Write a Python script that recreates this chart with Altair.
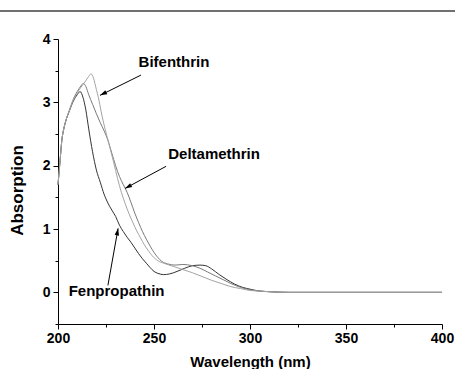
import math
import altair as alt
import pandas as pd

# ---------------- data ----------------
fen_wl = [200, 201, 202, 203, 204, 206, 208, 210, 211.5, 213, 214.5, 216, 218, 220, 222, 224, 226, 228, 230, 232,
          234, 236, 238, 240, 242, 244, 246, 248, 250, 252, 255, 258, 262, 266, 270, 274, 277, 280, 284, 288,
          292, 296, 300, 305, 310, 320, 340, 360, 380, 400]
fen_abs = [1.70, 2.05, 2.40, 2.58, 2.70, 2.87, 3.02, 3.12, 3.17, 3.08, 2.88, 2.58, 2.22, 1.93, 1.74, 1.55, 1.41, 1.30, 1.20, 1.06,
           0.96, 0.87, 0.79, 0.70, 0.61, 0.53, 0.46, 0.39, 0.33, 0.30, 0.28, 0.29, 0.33, 0.38, 0.42, 0.43, 0.42, 0.37, 0.28, 0.20,
           0.13, 0.08, 0.05, 0.02, 0.01, 0.0, 0.0, 0.0, 0.0, 0.0]

del_wl = [200, 201, 202, 203, 204, 206, 208, 210, 212, 213.2, 214.5, 216, 218, 220, 222, 224, 226, 228, 230, 232,
          234, 236, 238, 240, 242, 244, 246, 248, 250, 252, 254, 257, 261, 265, 270, 274, 278, 282, 286, 290,
          295, 300, 305, 310, 320, 340, 360, 380, 400]
del_abs = [1.70, 2.05, 2.40, 2.58, 2.70, 2.88, 3.05, 3.17, 3.26, 3.30, 3.25, 3.12, 2.97, 2.82, 2.68, 2.55, 2.40, 2.20, 2.00, 1.83,
           1.70, 1.58, 1.42, 1.25, 1.10, 0.96, 0.84, 0.73, 0.63, 0.55, 0.49, 0.45, 0.43, 0.44, 0.42, 0.38, 0.32, 0.26, 0.20, 0.14,
           0.08, 0.04, 0.02, 0.01, 0.0, 0.0, 0.0, 0.0, 0.0]

bif_wl = [200, 201, 202, 203, 204, 206, 208, 210, 212, 214, 216, 217.2, 218.5, 220, 221, 222.5, 224.5, 226.5, 229, 231,
          233, 235, 237, 239, 241, 243, 245, 247, 249, 252, 256, 260, 265, 270, 275, 280, 285, 290, 295, 300,
          305, 310, 320, 340, 360, 380, 400]
bif_abs = [1.70, 2.05, 2.40, 2.58, 2.70, 2.88, 3.04, 3.15, 3.24, 3.32, 3.41, 3.45, 3.38, 3.20, 3.08, 2.85, 2.58, 2.35, 2.05, 1.80,
           1.58, 1.40, 1.24, 1.10, 0.97, 0.86, 0.75, 0.66, 0.58, 0.50, 0.45, 0.41, 0.36, 0.31, 0.25, 0.19, 0.14, 0.09, 0.06, 0.03,
           0.02, 0.01, 0.0, 0.0, 0.0, 0.0, 0.0]

series_names = ["Fenpropathin", "Deltamethrin", "Bifenthrin"]
series_colors = ["#333333", "#7a7a7a", "#a3a3a3"]

label_text = ["Bifenthrin", "Deltamethrin", "Fenpropathin"]
label_wl = [260.4, 281.3, 230.5]
label_abs = [3.63, 2.18, 0.02]

arrow_wl_start = [243.2, 256.3, 226.0]
arrow_abs_start = [3.43, 1.99, 0.11]
arrow_wl_end = [221.9, 234.9, 231.3]
arrow_abs_end = [3.11, 1.64, 1.01]

x_major = [200, 250, 300, 350, 400]
x_minor = [225, 275, 325, 375]
y_major = [0, 1, 2, 3, 4]
y_minor = [-0.5, 0.5, 1.5, 2.5, 3.5]

# ---------------- frames ----------------
rows = []
for name, wls, vals in zip(series_names, [fen_wl, del_wl, bif_wl], [fen_abs, del_abs, bif_abs]):
    for w, v in zip(wls, vals):
        rows.append({"series": name, "wl": w, "abs": v})
df = pd.DataFrame(rows)

W, H = 384, 285
px_nm = W / 200.0
px_unit = H / 4.5
angles = []
for xs, ys, xe, ye in zip(arrow_wl_start, arrow_abs_start, arrow_wl_end, arrow_abs_end):
    dx = (xe - xs) * px_nm
    dy = -(ye - ys) * px_unit
    angles.append(math.degrees(math.atan2(dx, -dy)) % 360)
arrows = pd.DataFrame({"xs": arrow_wl_start, "ys": arrow_abs_start,
                       "xe": arrow_wl_end, "ye": arrow_abs_end, "ang": angles})
labels = pd.DataFrame({"t": label_text, "x": label_wl, "y": label_abs})

FONT = "Liberation Sans"
xs_ = alt.Scale(domain=[200, 400], nice=False, zero=False)
ys_ = alt.Scale(domain=[-0.5, 4], nice=False, zero=False)

common_axis = dict(domainColor="black", tickColor="black", labelColor="black", titleColor="black",
                   labelFont=FONT, titleFont=FONT, labelFontWeight="bold", titleFontWeight="bold",
                   grid=False, domainWidth=1, tickWidth=1, labelFlush=False, labelOverlap=False)

lines = alt.Chart(df).mark_line(strokeWidth=1, interpolate="monotone").encode(
    x=alt.X("wl:Q", scale=xs_, axis=alt.Axis(values=x_major, tickSize=5, labelPadding=2, labelFontSize=14,
                                             title="Wavelength (nm)", titleFontSize=15, titleY=42, titleX=192,
                                             titleBaseline="alphabetic", orient="bottom", **common_axis)),
    y=alt.Y("abs:Q", scale=ys_, axis=alt.Axis(values=y_major, tickSize=5, labelPadding=3, labelFontSize=14,
                                              title="Absorption", titleFontSize=17, titleX=-36, titleY=151,
                                              titleAngle=270, titleBaseline="alphabetic", titleAlign="center",
                                              orient="left", **common_axis)),
    color=alt.Color("series:N", scale=alt.Scale(domain=series_names, range=series_colors), legend=None),
)

minor = alt.Chart(df).mark_point(opacity=0).encode(
    x=alt.X("wl:Q", scale=xs_, axis=alt.Axis(values=x_minor, tickSize=3, labels=False, domain=False,
                                             title="", orient="bottom", tickColor="black", grid=False)),
    y=alt.Y("abs:Q", scale=ys_, axis=alt.Axis(values=y_minor, tickSize=3, labels=False, domain=False,
                                              title="", orient="left", tickColor="black", grid=False)),
)

shafts = alt.Chart(arrows).mark_rule(color="black", strokeWidth=1).encode(
    x=alt.X("xs:Q", scale=xs_, axis=None), y=alt.Y("ys:Q", scale=ys_, axis=None),
    x2="xe:Q", y2="ye:Q",
)

heads = alt.Chart(arrows).mark_point(shape="M0,0L-0.32,1L0.32,1Z", filled=True, color="black",
                                     size=196, opacity=1, strokeWidth=0).encode(
    x=alt.X("xe:Q", scale=xs_, axis=None), y=alt.Y("ye:Q", scale=ys_, axis=None),
    angle=alt.Angle("ang:Q", scale=None),
)

texts = alt.Chart(labels).mark_text(font=FONT, fontWeight="bold", fontSize=15, color="black",
                                    align="center", baseline="middle").encode(
    x=alt.X("x:Q", scale=xs_, axis=None), y=alt.Y("y:Q", scale=ys_, axis=None), text="t:N",
)

topline = alt.Chart(pd.DataFrame({"a": [0]})).mark_rule(color="#707070", strokeWidth=2).encode(
    x=alt.value(-58), x2=alt.value(397), y=alt.value(-28),
)

chart = alt.layer(topline, minor, lines, shafts, heads, texts).resolve_axis(
    x="independent", y="independent"
).properties(
    width=W, height=H,
    autosize=alt.AutoSizeParams(type="none"),
    padding={"left": 58, "top": 39, "right": 13, "bottom": 45},
).configure(background="white").configure_view(stroke=None)

chart.save("out.html", embed_options={"renderer": "svg", "actions": False})
